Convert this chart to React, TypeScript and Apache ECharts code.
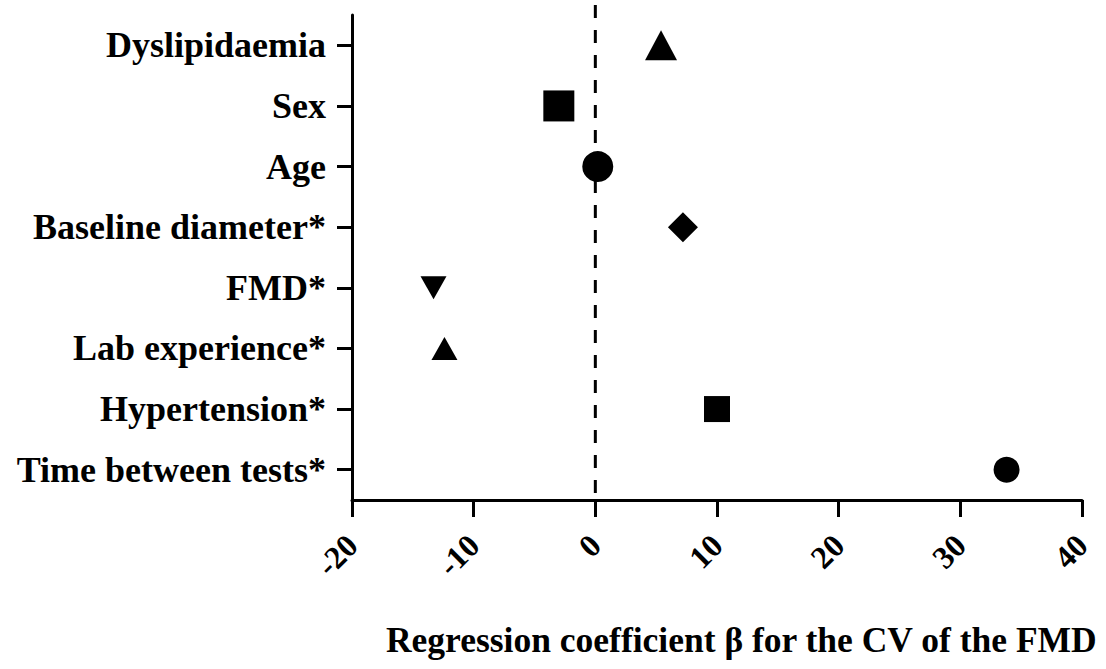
import React, { useEffect, useRef } from "react";
import * as echarts from "echarts";

const categories = [
  "Dyslipidaemia",
  "Sex",
  "Age",
  "Baseline diameter*",
  "FMD*",
  "Lab experience*",
  "Hypertension*",
  "Time between tests*",
];
const betaValues = [5.4, -3.0, 0.2, 7.2, -13.3, -12.4, 10.0, 33.8];
const xTicks = { min: -20, max: 40, interval: 10 };
const axisName = "Regression coefficient \u03b2 for the CV of the FMD";

// marker styles (shape, size) per category
const markerStyles: { symbol: string; size: number[]; rotate?: number }[] = [
  { symbol: "triangle", size: [32, 30] },
  { symbol: "rect", size: [31, 31] },
  { symbol: "circle", size: [31, 31] },
  { symbol: "diamond", size: [30, 30] },
  { symbol: "triangle", size: [26, 23], rotate: 180 },
  { symbol: "triangle", size: [26, 23] },
  { symbol: "rect", size: [26, 26] },
  { symbol: "circle", size: [26, 26] },
];

const FONT = '"Liberation Serif", "Times New Roman", serif';

export default function App() {
  const ref = useRef<HTMLDivElement>(null);
  useEffect(() => {
    document.body.style.margin = "0";
    if (!ref.current) return;
    const chart = echarts.init(ref.current, undefined, { renderer: "svg" });
    const data = categories.map((c, i) => ({
      value: [betaValues[i], c],
      symbol: markerStyles[i].symbol,
      symbolSize: markerStyles[i].size,
      symbolRotate: markerStyles[i].rotate || 0,
    }));
    const nameGraphic = {
      type: "text",
      right: 8,
      top: 622,
      style: {
        text: axisName,
        font: `bold 35.5px ${FONT}`,
        fill: "#000",
      },
    };
    chart.setOption({
      animation: false,
      backgroundColor: "#ffffff",
      grid: { left: 352, right: 24, top: 15, bottom: 169, containLabel: false },
      xAxis: {
        type: "value",
        min: xTicks.min,
        max: xTicks.max,
        interval: xTicks.interval,
        splitLine: { show: false },
        axisLine: { show: true, onZero: false, lineStyle: { color: "#000", width: 3 } },
        axisTick: { show: true, length: 17, lineStyle: { color: "#000", width: 3 } },
        axisLabel: {
          rotate: 45,
          margin: 40,
          color: "#000",
          fontFamily: FONT,
          fontWeight: "bold",
          fontSize: 32,
        },
      },
      yAxis: {
        type: "category",
        data: categories,
        inverse: true,
        boundaryGap: true,
        axisLine: { show: true, onZero: false, lineStyle: { color: "#000", width: 3 } },
        axisTick: { show: true, alignWithLabel: true, length: 15, lineStyle: { color: "#000", width: 3 } },
        axisLabel: {
          margin: 26,
          color: "#000",
          fontFamily: FONT,
          fontWeight: "bold",
          fontSize: 36,
        },
        splitLine: { show: false },
      },
      series: [
        {
          type: "scatter",
          data,
          itemStyle: { color: "#000", opacity: 1 },
          z: 5,
        },
      ],
      graphic: [nameGraphic],
    });
    const x0 = chart.convertToPixel({ xAxisIndex: 0 }, 0) as number;
    chart.setOption({
      graphic: [
        nameGraphic,
        {
          type: "line",
          shape: { x1: x0, y1: 5, x2: x0, y2: 500 },
          style: { stroke: "#000", lineWidth: 3, lineDash: [13, 12] },
          z: 1,
        },
      ],
    });
    return () => chart.dispose();
  }, []);
  return <div ref={ref} style={{ width: 1106, height: 669 }} />;
}
